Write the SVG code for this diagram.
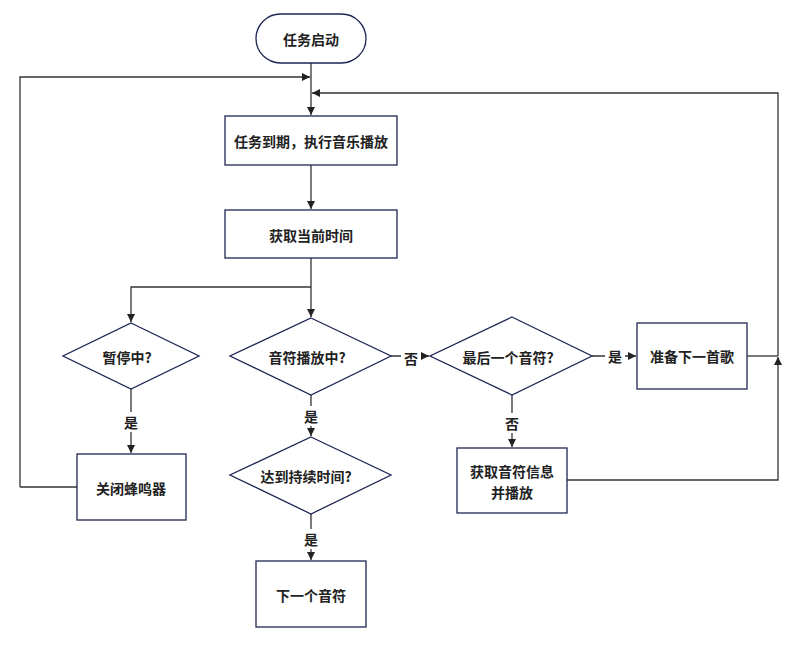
<svg xmlns="http://www.w3.org/2000/svg" width="803" height="657" viewBox="0 0 803 657">
<defs>
<marker id="ah" markerWidth="10" markerHeight="10" refX="9" refY="5" orient="auto" markerUnits="userSpaceOnUse">
<path d="M1,1 L9,5 L1,9 Z" fill="#222"/>
</marker>
<style>
.n{fill:#fff;stroke:#1e2654;stroke-width:1.3}
.t{font-family:"Noto Sans CJK SC","Noto Sans",sans-serif;font-size:14px;font-weight:bold;fill:#222;text-anchor:middle;dominant-baseline:central}
.c{fill:none;stroke:#333;stroke-width:1.3}
.a{marker-end:url(#ah)}
.lb{fill:#fff}
</style>
</defs>
<rect width="803" height="657" fill="#fff"/>
<g id="connectors">
<path class="c a" d="M311,63 V115"/>
<path class="c a" d="M20,487 V77 H310"/>
<path class="c a" d="M778,356 V93 H312"/>
<path class="c a" d="M311,165 V209"/>
<path class="c a" d="M311,258 V317"/>
<path class="c a" d="M311,287 H131 V322"/>
<path class="c a" d="M131,389 V453"/>
<path class="c" d="M77,487 H20"/>
<path class="c a" d="M391,356 H429"/>
<path class="c a" d="M592,356 H636"/>
<path class="c" d="M747,356 H778"/>
<path class="c a" d="M512,395 V447"/>
<path class="c a" d="M567,480 H778 V357"/>
<path class="c a" d="M311,395 V436"/>
<path class="c a" d="M311,514 V560"/>
<rect class="lb" x="121" y="412" width="20" height="20"/>
<text class="t" x="131" y="422">是</text>
<rect class="lb" x="301" y="406" width="20" height="20"/>
<text class="t" x="311" y="416">是</text>
<rect class="lb" x="301" y="529" width="20" height="20"/>
<text class="t" x="311" y="539">是</text>
<rect class="lb" x="401" y="348" width="20" height="20"/>
<text class="t" x="411" y="358">否</text>
<rect class="lb" x="605" y="346" width="20" height="20"/>
<text class="t" x="615" y="356">是</text>
<rect class="lb" x="502" y="413" width="20" height="20"/>
<text class="t" x="512" y="423">否</text>
</g>
<g id="start">
<rect class="n" x="256" y="14" width="110" height="49" rx="24.5"/>
<text class="t" x="311" y="39">任务启动</text>
</g>
<g id="task">
<rect class="n" x="225" y="116" width="172" height="49"/>
<text class="t" x="311" y="141">任务到期，执行音乐播放</text>
</g>
<g id="gettime">
<rect class="n" x="225" y="210" width="172" height="48"/>
<text class="t" x="311" y="235">获取当前时间</text>
</g>
<g id="paused">
<path class="n" d="M131,323 L199,356 L131,389 L63,356 Z"/>
<text class="t" x="127" y="357">暂停中?</text>
</g>
<g id="playing">
<path class="n" d="M311,318 L391,356 L311,395 L230,356 Z"/>
<text class="t" x="307" y="357">音符播放中?</text>
</g>
<g id="lastnote">
<path class="n" d="M512,317 L592,356 L512,395 L430,356 Z"/>
<text class="t" x="508" y="357">最后一个音符?</text>
</g>
<g id="nextsong">
<rect class="n" x="637" y="323" width="110" height="66"/>
<text class="t" x="692" y="356">准备下一首歌</text>
</g>
<g id="getnote">
<rect class="n" x="457" y="448" width="110" height="65"/>
<text class="t" x="512" y="471">获取音符信息</text>
<text class="t" x="512" y="492">并播放</text>
</g>
<g id="buzzeroff">
<rect class="n" x="77" y="454" width="109" height="66"/>
<text class="t" x="131" y="488">关闭蜂鸣器</text>
</g>
<g id="duration">
<path class="n" d="M311,437 L391,475 L311,514 L230,475 Z"/>
<text class="t" x="306" y="476">达到持续时间?</text>
</g>
<g id="nextnote">
<rect class="n" x="256" y="561" width="110" height="66"/>
<text class="t" x="311" y="595">下一个音符</text>
</g>
</svg>
